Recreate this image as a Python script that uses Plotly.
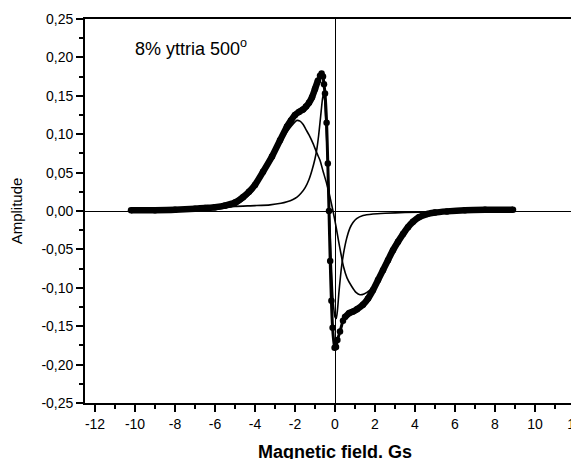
import plotly.graph_objects as go

# ---- data ----
main_x = [-10.2, -9.0, -8.0, -7.0, -6.5, -6.0, -5.5, -5.0, -4.6, -4.3, -4.0, -3.6, -3.15, -2.75,
          -2.4, -2.2, -2.0, -1.8, -1.6, -1.45, -1.3, -1.15, -1.0, -0.85, -0.75, -0.67, -0.6, -0.55,
          -0.5, -0.42, -0.36, -0.3, -0.24, -0.18, -0.12, -0.02, 0.05, 0.12, 0.25, 0.4, 0.5, 0.7,
          0.9, 1.1, 1.4, 1.65, 1.9, 2.15, 2.4, 2.65, 2.9, 3.15, 3.4, 3.65, 3.9, 4.2, 4.6, 5.0,
          5.6, 6.5, 7.5, 8.9]
main_y = [0.001, 0.001, 0.0015, 0.003, 0.004, 0.005, 0.007, 0.011, 0.018, 0.025, 0.034, 0.051, 0.071, 0.092,
          0.110, 0.118, 0.125, 0.129, 0.132, 0.136, 0.141, 0.148, 0.159, 0.170, 0.176, 0.179, 0.175, 0.165,
          0.153, 0.115, 0.062, 0.0, -0.065, -0.117, -0.152, -0.178, -0.177, -0.168, -0.157, -0.143, -0.138, -0.133,
          -0.131, -0.128, -0.122, -0.114, -0.103, -0.090, -0.077, -0.064, -0.051, -0.040, -0.030, -0.021, -0.014, -0.008, -0.004, -0.002,
          -0.0005, 0.001, 0.0015, 0.0015]

narrow_x = [-10.2, -8.0, -6.0, -5.0, -4.0, -3.25, -2.7, -2.4, -2.1, -1.9, -1.7, -1.5, -1.3, -1.15,
            -1.0, -0.9, -0.82, -0.75, -0.68, -0.62, -0.57, -0.52, -0.47, -0.37, -0.3, -0.2, -0.1,
            0.0, 0.06, 0.12, 0.2, 0.33, 0.45, 0.58, 0.75, 0.9, 1.08, 1.4, 1.9, 2.5, 3.5, 5.0, 7.0, 8.9]
narrow_y = [0.001, 0.002, 0.004, 0.006, 0.007, 0.008, 0.010, 0.012, 0.015, 0.018, 0.023, 0.030, 0.041, 0.053,
            0.068, 0.082, 0.098, 0.115, 0.133, 0.147, 0.152, 0.145, 0.123, 0.066, 0.006, -0.060, -0.115,
            -0.138, -0.140, -0.130, -0.105, -0.072, -0.052, -0.036, -0.022, -0.015, -0.010, -0.006, -0.004, -0.003, -0.002, -0.001, -0.0005, 0.0]

broad_x = [-10.2, -8.0, -7.0, -6.0, -5.5, -5.0, -4.6, -4.3, -4.0, -3.6, -3.15, -2.75, -2.4, -2.2, -2.0,
           -1.9, -1.75, -1.6, -1.45, -1.3, -1.1, -0.9, -0.75, -0.6, -0.42, -0.25, -0.1, 0.05, 0.17,
           0.3, 0.42, 0.6, 0.83, 1.05, 1.25, 1.45, 1.75, 2.0, 2.4, 2.9, 3.4, 3.9, 4.6, 5.6, 7.0, 8.9]
broad_y = [0.0, 0.0005, 0.001, 0.002, 0.004, 0.007, 0.014, 0.021, 0.030, 0.047, 0.067, 0.087, 0.103, 0.110, 0.116,
           0.118, 0.117, 0.113, 0.106, 0.099, 0.088, 0.075, 0.066, 0.052, 0.036, 0.018, 0.0, -0.020, -0.038,
           -0.056, -0.072, -0.087, -0.098, -0.106, -0.109, -0.108, -0.103, -0.096, -0.078, -0.051, -0.029, -0.013, -0.003, 0.0, 0.001, 0.001]

x_ticks = [-12, -10, -8, -6, -4, -2, 0, 2, 4, 6, 8, 10, 12]
x_tick_labels = ["-12", "-10", "-8", "-6", "-4", "-2", "0", "2", "4", "6", "8", "10", "12"]
x_minor = [-11, -9, -7, -5, -3, -1, 1, 3, 5, 7, 9, 11]
y_ticks = [-0.25, -0.20, -0.15, -0.10, -0.05, 0.0, 0.05, 0.10, 0.15, 0.20, 0.25]
y_tick_labels = ["-0,25", "-0,20", "-0,15", "-0,10", "-0,05", "0,00", "0,05", "0,10", "0,15", "0,20", "0,25"]
y_minor = [-0.225, -0.175, -0.125, -0.075, -0.025, 0.025, 0.075, 0.125, 0.175, 0.225]

label_text = "8% yttria 500<sup>o</sup>"
x_title = "Magnetic field. Gs"
y_title = "Amplitude"

FONT = "Arial, 'Liberation Sans', sans-serif"

fig = go.Figure()
fig.add_trace(go.Scatter(x=broad_x, y=broad_y, mode="lines",
                         line=dict(color="black", width=1.6, shape="spline", smoothing=0.6),
                         showlegend=False, hoverinfo="skip"))
fig.add_trace(go.Scatter(x=narrow_x, y=narrow_y, mode="lines",
                         line=dict(color="black", width=1.6, shape="spline", smoothing=0.6),
                         showlegend=False, hoverinfo="skip"))
# dense (slowly varying) parts of the measured curve form a thick band
for sl in (slice(0, 24), slice(40, None)):
    fig.add_trace(go.Scatter(x=main_x[sl], y=main_y[sl], mode="lines",
                             line=dict(color="black", width=6.5, shape="spline", smoothing=0.5),
                             showlegend=False, hoverinfo="skip"))
fig.add_trace(go.Scatter(x=main_x, y=main_y, mode="lines+markers",
                         line=dict(color="black", width=3, shape="spline", smoothing=0.5),
                         marker=dict(color="black", size=6.5),
                         showlegend=False))

fig.add_annotation(x=0.095, y=0.927, xref="paper", yref="paper", text=label_text,
                   showarrow=False, xanchor="left", yanchor="middle",
                   font=dict(family=FONT, size=18, color="black"))

fig.update_layout(
    width=580, height=470,
    margin=dict(l=77, r=3, t=11, b=75, autoexpand=False),
    plot_bgcolor="white", paper_bgcolor="white",
    font=dict(family=FONT, color="black"),
    xaxis=dict(range=[-12.5, 12.5], tickmode="array", tickvals=x_ticks, ticktext=x_tick_labels,
               ticks="outside", ticklen=7, tickwidth=1.5, tickcolor="black", automargin=False,
               minor=dict(tickvals=x_minor, ticks="outside", ticklen=4, tickwidth=1.5, tickcolor="black", showgrid=False),
               showline=True, linecolor="black", linewidth=1.8, mirror=True,
               showgrid=False, zeroline=True, zerolinecolor="black", zerolinewidth=1.2,
               tickfont=dict(family=FONT, size=14, color="black"),
               title=dict(text="<b>" + x_title + "</b>", font=dict(family=FONT, size=18, color="black"), standoff=15)),
    yaxis=dict(range=[-0.25, 0.25], tickmode="array", tickvals=y_ticks, ticktext=y_tick_labels,
               ticks="outside", ticklen=7, tickwidth=1.5, tickcolor="black", automargin=False,
               minor=dict(tickvals=y_minor, ticks="outside", ticklen=4, tickwidth=1.5, tickcolor="black", showgrid=False),
               showline=True, linecolor="black", linewidth=1.8, mirror=False,
               showgrid=False, zeroline=True, zerolinecolor="black", zerolinewidth=1.2,
               tickfont=dict(family=FONT, size=14, color="black"),
               title=dict(text=y_title, font=dict(family=FONT, size=15, color="black"), standoff=35)),
)

fig.write_html("out.html")
